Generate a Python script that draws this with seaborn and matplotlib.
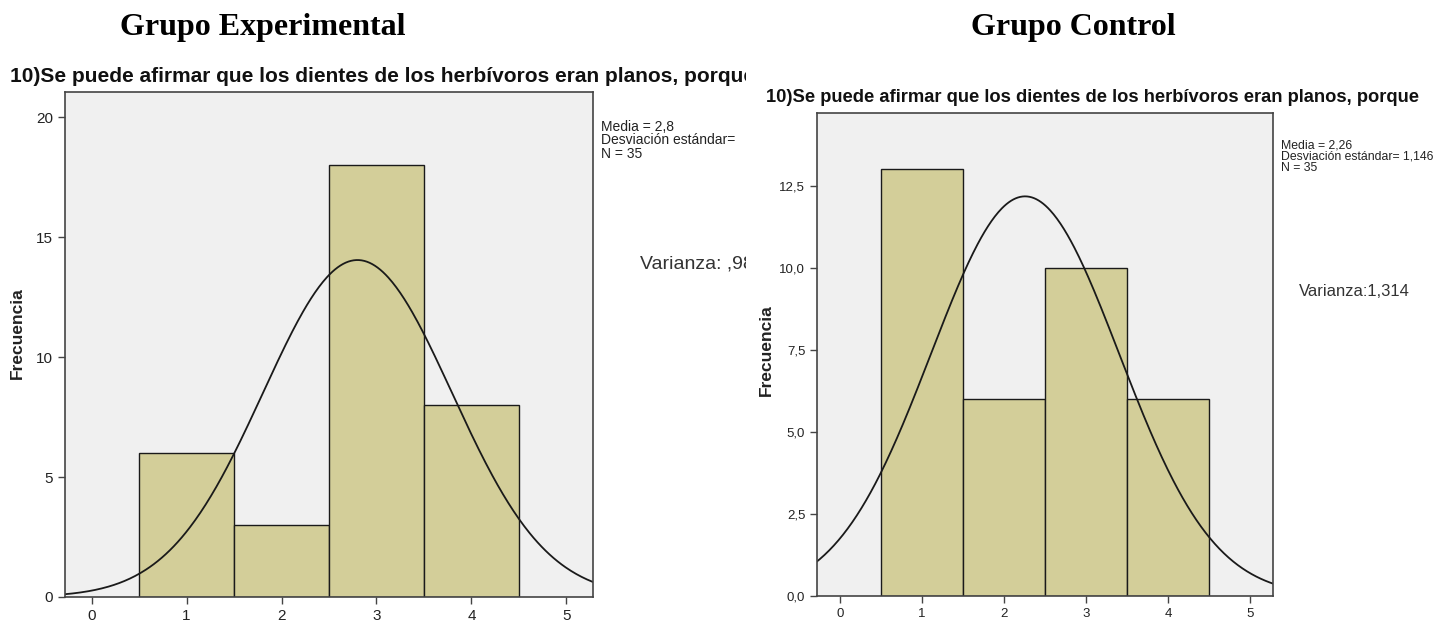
import numpy as np
import pandas as pd
import matplotlib
matplotlib.use("Agg")
import matplotlib.pyplot as plt
import seaborn as sns

# ── Data ───────────────────────────────────────────────────────────────────────
scores = [1, 2, 3, 4]
counts_exp = [6, 3, 18, 8]
counts_ctl = [13, 6, 10, 6]

x_ticks = [0, 1, 2, 3, 4, 5]
y_ticks_exp = [0, 5, 10, 15, 20]
y_labels_exp = ["0", "5", "10", "15", "20"]
y_ticks_ctl = [0.0, 2.5, 5.0, 7.5, 10.0, 12.5]
y_labels_ctl = ["0,0", "2,5", "5,0", "7,5", "10,0", "12,5"]

question = "10)Se puede afirmar que los dientes de los herbívoros eran planos, porque"
stats_exp = "Media = 2,8\nDesviación estándar=\nN = 35"
stats_ctl = "Media = 2,26\nDesviación estándar= 1,146\nN = 35"
var_exp = "Varianza: ,988"
var_ctl = "Varianza:1,314"

# ── Style ──────────────────────────────────────────────────────────────────────
sns.set_style("white")
plt.rcParams["font.family"] = ["Liberation Sans", "DejaVu Sans"]

BAR_COLOR = "#D3CE99"
BG_COLOR = "#F0F0F0"
SPINE = "#444444"
TXT = "#222222"

W, H = 1450, 621
fig = plt.figure(figsize=(W / 100, H / 100), dpi=100)


def fx(px):
    return px / W


def fy(py):
    return (H - py) / H


def draw_hist(ax, counts, yticks, ylabels, ylim, tick_fs, label_fs, label_xy):
    df = pd.DataFrame({"score": scores, "n": counts})
    sns.histplot(data=df, x="score", weights="n", discrete=True, ax=ax,
                 color=BAR_COLOR, alpha=1, edgecolor="#1a1a1a", linewidth=1.0)
    # normal curve fitted like SPSS (mean, sample sd, scaled by N)
    vals = np.repeat(scores, counts)
    mu, sd, n = vals.mean(), vals.std(ddof=1), len(vals)
    xs = np.linspace(-0.3, 5.3, 400)
    ys = n * np.exp(-0.5 * ((xs - mu) / sd) ** 2) / (sd * np.sqrt(2 * np.pi))
    ax.plot(xs, ys, color="#1a1a1a", lw=1.3)

    ax.set_facecolor(BG_COLOR)
    ax.set_xlim(-0.28, 5.28)
    ax.set_ylim(*ylim)
    ax.set_xticks(x_ticks)
    ax.set_xticklabels([str(t) for t in x_ticks])
    ax.set_yticks(yticks)
    ax.set_yticklabels(ylabels)
    ax.tick_params(axis="both", direction="out", length=5, width=1,
                   color=SPINE, labelsize=tick_fs, labelcolor=TXT,
                   left=True, bottom=True)
    ax.set_xlabel("")
    ax.set_ylabel("Frecuencia", fontsize=label_fs, fontweight="bold",
                  color=TXT)
    ax.yaxis.set_label_coords(*label_xy)
    for s in ax.spines.values():
        s.set_visible(True)
        s.set_color(SPINE)
        s.set_linewidth(1.2)


# ── Panels ─────────────────────────────────────────────────────────────────────
ax1 = fig.add_axes([fx(65), fy(597), fx(593 - 65), (597 - 92) / H])
draw_hist(ax1, counts_exp, y_ticks_exp, y_labels_exp, (0, 21.05), 11, 12.5,
          (-0.076, 0.523))

ax2 = fig.add_axes([fx(817), fy(596), fx(1273 - 817), (596 - 113) / H])
draw_hist(ax2, counts_ctl, y_ticks_ctl, y_labels_ctl, (0, 14.72), 9.5, 12.5,
          (-0.095, 0.509))

# clipping region for the left (cropped) panel texts
clip_ax = fig.add_axes([0, 0, fx(746), 1])
clip_ax.axis("off")


def clipped_text(x, y, s, **kw):
    t = clip_ax.text(x, y, s, transform=fig.transFigure, clip_on=True, **kw)
    t.set_clip_box(clip_ax.bbox)
    return t


clipped_text(fx(10), fy(76), question, fontsize=15, fontweight="bold",
             color="#111111", va="center", ha="left")
clipped_text(fx(601), fy(120), stats_exp, fontsize=10, color=TXT,
             va="top", ha="left", linespacing=0.95)
clipped_text(fx(640), fy(264), var_exp, fontsize=14, color="#333333",
             va="center", ha="left")

fig.text(fx(766), fy(97), question, fontsize=13.2, fontweight="bold",
         color="#111111", va="center", ha="left")
fig.text(fx(1281), fy(139), stats_ctl, fontsize=8.8, color=TXT,
         va="top", ha="left", linespacing=0.95)
fig.text(fx(1299), fy(291), var_ctl, fontsize=12, color="#333333",
         va="center", ha="left")

# group headings
fig.text(fx(263), fy(27), "Grupo Experimental", fontsize=23, fontweight="bold",
         family="Liberation Serif", ha="center", va="center", color="black")
fig.text(fx(1073), fy(27), "Grupo Control", fontsize=23, fontweight="bold",
         family="Liberation Serif", ha="center", va="center", color="black")

fig.savefig("out.png", dpi=100, facecolor="white")
